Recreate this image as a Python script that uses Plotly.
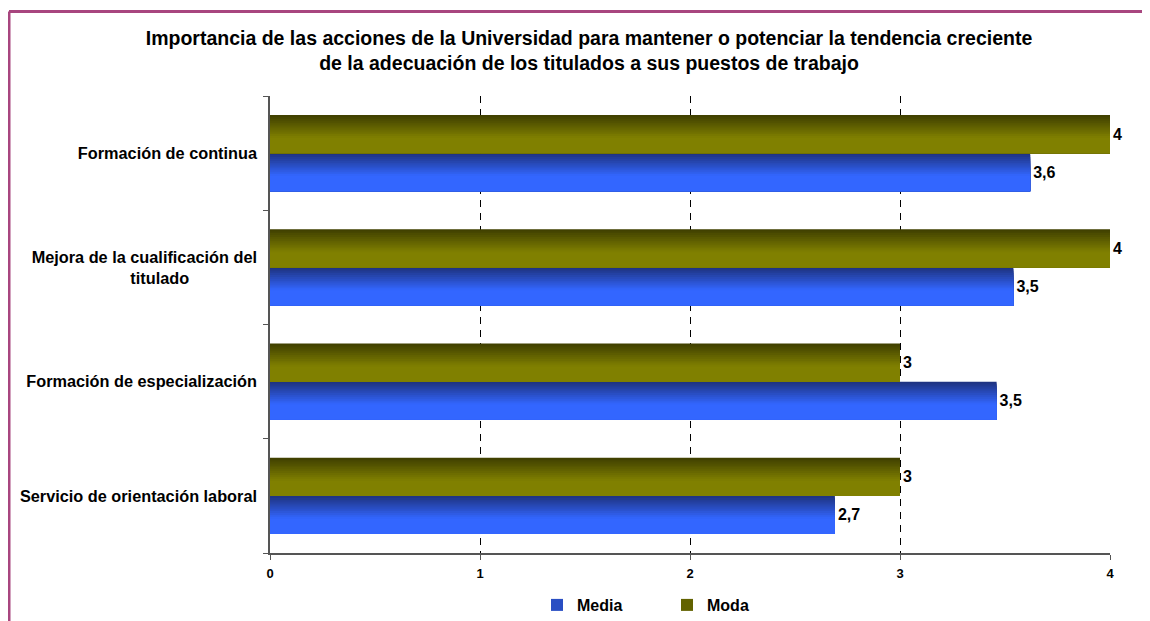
import plotly.graph_objects as go

# ---------------- data ----------------
categories = [
    "Formación de continua",
    "Mejora de la cualificación del titulado",
    "Formación de especialización",
    "Servicio de orientación laboral",
]
tick_labels = [
    "Formación de continua",
    "Mejora de la cualificación del<br>titulado" + "\u00a0" * 15,
    "Formación de especialización",
    "Servicio de orientación laboral",
]
media = [3.62, 3.54, 3.46, 2.69]
moda = [4, 4, 3, 3]
x_tick_values = [0, 1, 2, 3, 4]
series_names = ["Media", "Moda"]

title_text = ("Importancia de las acciones de la Universidad para mantener o potenciar la tendencia creciente"
              "<br>de la adecuación de los titulados a sus puestos de trabajo")

# ---------------- style ----------------
# the page body has an 8px margin, so the figure is drawn 8px in from the window edge
W, H = 1142, 613
ML, MR, MT, MB = 262, 40, 88, 68
PW, PH = W - ML - MR, H - MT - MB
FONT = "Arial, Liberation Sans, Helvetica, sans-serif"

BAR_W = 1 / 3          # thickness of each bar in category units
N_STRIPS = 12          # strips used to emulate the vertical gradient
KNEE = 0.6

media_dark, media_light = (30, 50, 125), (51, 102, 255)
moda_dark, moda_light = (62, 62, 0), (128, 128, 0)


def fmt(v):
    s = f"{v:.1f}".replace(".", ",")
    return s[:-2] if s.endswith(",0") else s


def mix(c1, c2, f):
    f = max(0.0, min(1.0, f))
    return "rgb({},{},{})".format(*[round(a + (b - a) * f) for a, b in zip(c1, c2)])


fig = go.Figure()

series = [
    (series_names[0], media, 0.0, media_dark, media_light),
    (series_names[1], moda, -BAR_W, moda_dark, moda_light),
]

for rank, (name, vals, start, dark, light) in enumerate(series):
    step = BAR_W * KNEE / N_STRIPS
    for k in range(N_STRIPS + 1):
        top = start + k * step
        f = (k + 0.5) / N_STRIPS
        fig.add_trace(go.Bar(
            y=categories, x=vals, orientation="h",
            offset=top, width=BAR_W - k * step,
            marker=dict(color=mix(dark, light, f), line=dict(width=0)),
            name=name, legendgroup=name, legendrank=rank + 1,
            showlegend=(k == N_STRIPS // 2),
            hoverinfo="skip",
        ))
    # transparent full-thickness bar carrying the value labels
    fig.add_trace(go.Bar(
        y=categories, x=vals, orientation="h",
        offset=start, width=BAR_W,
        marker=dict(color="rgba(0,0,0,0)", line=dict(width=0)),
        text=[fmt(v) for v in vals], textposition="outside",
        textfont=dict(family=FONT, size=16, color="black", weight="bold"),
        cliponaxis=False, constraintext="none",
        showlegend=False, name=name,
        hovertemplate="%{y}: %{x}<extra>" + name + "</extra>",
    ))

frame_color = "#A8467F"
fx = (1 - ML) / PW
fy = (H - MB - 3.5) / PH
fig.add_shape(type="line", xref="paper", yref="paper",
              x0=fx, x1=(W + 30 - ML) / PW, y0=fy, y1=fy,
              line=dict(color=frame_color, width=3))
fig.add_shape(type="line", xref="paper", yref="paper",
              x0=fx, x1=fx, y0=fy, y1=(-MB - 30) / PH,
              line=dict(color=frame_color, width=3))

fig.update_layout(
    width=W, height=H,
    margin=dict(l=ML, r=MR, t=MT, b=MB, autoexpand=False),
    paper_bgcolor="white", plot_bgcolor="white",
    barmode="overlay",
    font=dict(family=FONT, color="black"),
    title=dict(text=title_text, x=581 / W, xanchor="center", xref="container",
               y=1 - 37 / H, yanchor="top", yref="container",
               font=dict(family=FONT, size=19.5, color="black", weight="bold")),
    xaxis=dict(range=[0, 4], tickvals=x_tick_values, ticktext=[str(v) for v in x_tick_values],
               showgrid=True, gridcolor="black", gridwidth=1, griddash="7px,6px",
               zeroline=False, showline=True, linecolor="#555", linewidth=1.5,
               ticks="outside", ticklen=5, tickcolor="#555", ticklabelstandoff=3,
               tickfont=dict(family=FONT, size=13, color="black", weight="bold")),
    yaxis=dict(type="category", categoryorder="array", categoryarray=categories,
               autorange="reversed", tickmode="array", tickvals=categories, ticktext=tick_labels,
               tickson="boundaries", ticks="outside", ticklen=5, tickcolor="#555",
               ticklabelstandoff=8,
               showline=True, linecolor="#555", linewidth=1.5, showgrid=False, zeroline=False,
               tickfont=dict(family=FONT, size=16.3, color="black", weight="bold")),
    legend=dict(orientation="h", x=(659 - ML) / PW, xanchor="center",
                y=(H - MB - 597) / PH, yanchor="middle",
                entrywidth=85, entrywidthmode="pixels",
                font=dict(family=FONT, size=16, color="black", weight="bold"),
                bgcolor="rgba(0,0,0,0)"),
    showlegend=True,
)

fig.write_html("out.html")
